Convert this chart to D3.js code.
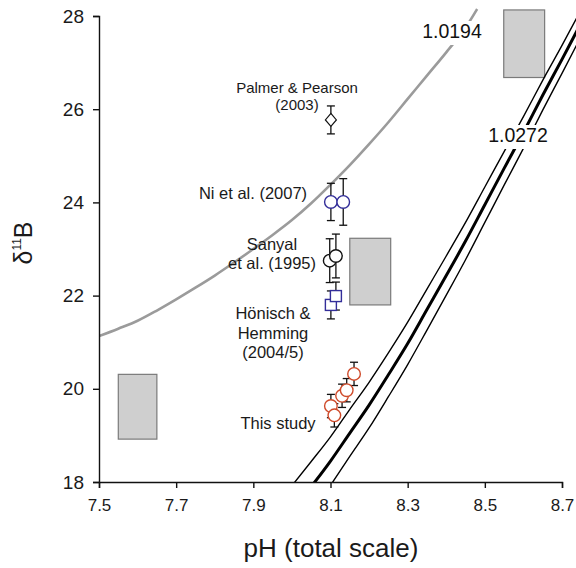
<!DOCTYPE html>
<html>
<head>
<meta charset="utf-8">
<script src="https://cdn.jsdelivr.net/npm/d3@7"></script>
<style>
body{margin:0;background:#fff;}
svg{font-family:"Liberation Sans",Arial,sans-serif;display:block;}
</style>
</head>
<body>
<div id="chart"></div>
<script>
// ticks
var phTicks = [7.5, 7.7, 7.9, 8.1, 8.3, 8.5, 8.7];
var dTicks = [18, 20, 22, 24, 26, 28];

// grey curve, alpha 1.0194
var ph1194 = [7.50, 7.55, 7.60, 7.65, 7.70, 7.75, 7.80, 7.85, 7.90, 7.95, 8.00, 8.05, 8.10, 8.15, 8.20, 8.25, 8.30, 8.35, 8.40, 8.45, 8.48];
var d1194 = [21.13, 21.29, 21.46, 21.68, 21.92, 22.17, 22.43, 22.71, 23.00, 23.30, 23.62, 23.98, 24.38, 24.80, 25.25, 25.72, 26.22, 26.72, 27.22, 27.75, 28.15];

// black curves, alpha 1.0272 (centre + envelope)
var ph1272 = [8.00, 8.05, 8.10, 8.15, 8.20, 8.25, 8.30, 8.35, 8.40, 8.45, 8.50, 8.55, 8.60, 8.65, 8.70, 8.74];
var d1272 = [17.37, 17.90, 18.45, 19.05, 19.65, 20.30, 20.97, 21.70, 22.43, 23.17, 23.95, 24.73, 25.50, 26.30, 27.07, 27.70];
var d1272hi = [17.92, 18.44, 18.97, 19.56, 20.14, 20.77, 21.43, 22.14, 22.85, 23.57, 24.33, 25.09, 25.84, 26.62, 27.37, 27.99];
var d1272lo = [16.82, 17.37, 17.93, 18.55, 19.16, 19.83, 20.52, 21.26, 22.01, 22.77, 23.57, 24.37, 25.16, 25.98, 26.77, 27.41];

// grey boxes
var boxes = [
  {ph0: 7.55, ph1: 7.65, lo: 18.92, hi: 20.31},
  {ph0: 8.15, ph1: 8.256, lo: 21.80, hi: 23.23},
  {ph0: 8.549, ph1: 8.655, lo: 26.68, hi: 28.13}
];

// published data
var palmer = [{ph: 8.101, d: 25.77, e: 0.30}];
var ni = [{ph: 8.101, d: 24.01, e: 0.40}, {ph: 8.133, d: 24.01, e: 0.50}];
var sanyal = [{ph: 8.098, d: 22.75, e: 0.47}, {ph: 8.114, d: 22.85, e: 0.47}];
var honisch = [{ph: 8.101, d: 21.80, e: 0.30}, {ph: 8.114, d: 21.99, e: 0.30}];
var thisStudy = [
  {ph: 8.101, d: 19.63, e: 0.25},
  {ph: 8.110, d: 19.43, e: 0.25},
  {ph: 8.130, d: 19.85, e: 0.25},
  {ph: 8.142, d: 19.97, e: 0.25},
  {ph: 8.161, d: 20.32, e: 0.25}
];

var W = 576, H = 568;
var blue = "#332e99", red = "#cf4b2b";

var svg = d3.select("#chart").append("svg")
  .attr("width", W)
  .attr("height", H);

var x = d3.scaleLinear().domain([7.5, 8.7]).range([99, 562]);
var y = d3.scaleLinear().domain([18, 28]).range([482, 16]);

svg.append("clipPath").attr("id", "clip")
  .append("rect").attr("x", 99).attr("y", 0).attr("width", W - 99).attr("height", 482);

var plot = svg.append("g").attr("clip-path", "url(#clip)");

// boxes
plot.selectAll("rect.box")
  .data(boxes)
  .enter()
  .append("rect")
  .attr("class", "box")
  .attr("x", d => x(d.ph0))
  .attr("y", d => y(d.hi))
  .attr("width", d => x(d.ph1) - x(d.ph0))
  .attr("height", d => y(d.lo) - y(d.hi))
  .attr("fill", "#cfcfcf")
  .attr("stroke", "#7a7a7a")
  .attr("stroke-width", 1.2);

var line = d3.line().x(d => x(d[0])).y(d => y(d[1])).curve(d3.curveMonotoneX);

plot.append("path")
  .attr("d", line(d3.zip(ph1194, d1194)))
  .attr("fill", "none")
  .attr("stroke", "#9b9b9b")
  .attr("stroke-width", 2.6);

[[d1272hi, 1.4], [d1272, 3], [d1272lo, 1.4]].forEach(function(c){
  plot.append("path")
    .attr("d", line(d3.zip(ph1272, c[0])))
    .attr("fill", "none")
    .attr("stroke", "#000")
    .attr("stroke-width", c[1]);
});

// curve labels with white background
function curveLabel(txt, cx, by){
  var g = svg.append("g");
  var bg = g.append("rect").attr("fill", "#fff");
  var t = g.append("text")
    .attr("x", cx).attr("y", by)
    .attr("text-anchor", "middle")
    .attr("font-size", 19.5)
    .attr("fill", "#111")
    .text(txt);
  var b = t.node().getBBox();
  bg.attr("x", b.x - 3).attr("y", b.y + 1).attr("width", b.width + 6).attr("height", b.height + 2);
}
curveLabel("1.0194", 452, 38);
curveLabel("1.0272", 518, 142);

// axes
var xAxis = svg.append("g")
  .attr("transform", "translate(0,482)")
  .call(d3.axisBottom(x).tickValues(phTicks).tickFormat(d3.format(".1f")).tickSizeOuter(0).tickSize(6).tickPadding(11));
var yAxis = svg.append("g")
  .attr("transform", "translate(99,0)")
  .call(d3.axisLeft(y).tickValues(dTicks).tickSizeOuter(0).tickSize(6).tickPadding(9));

xAxis.selectAll("text").attr("font-size", 17).attr("fill", "#1a1a1a");
yAxis.selectAll("text").attr("font-size", 19).attr("fill", "#1a1a1a");
svg.selectAll(".domain, .tick line").attr("stroke", "#111").attr("stroke-width", 1.4);
xAxis.attr("font-family", null);
yAxis.attr("font-family", null);

svg.append("text")
  .attr("x", 331).attr("y", 557)
  .attr("text-anchor", "middle")
  .attr("font-size", 26)
  .attr("fill", "#1a1a1a")
  .text("pH (total scale)");

var yl = svg.append("text")
  .attr("transform", "translate(32,243) rotate(-90)")
  .attr("text-anchor", "middle")
  .attr("font-size", 25)
  .attr("fill", "#1a1a1a");
yl.append("tspan").text("δ");
yl.append("tspan").attr("font-size", 12).attr("dy", -11).text("11");
yl.append("tspan").attr("dy", 11).text("B");

// error bars
function errBars(data){
  var g = svg.append("g").attr("stroke", "#111").attr("stroke-width", 1.3);
  data.forEach(function(d){
    g.append("line").attr("x1", x(d.ph)).attr("x2", x(d.ph)).attr("y1", y(d.d - d.e)).attr("y2", y(d.d + d.e));
    [d.d - d.e, d.d + d.e].forEach(function(v){
      g.append("line").attr("x1", x(d.ph) - 4).attr("x2", x(d.ph) + 4).attr("y1", y(v)).attr("y2", y(v));
    });
  });
}
errBars(palmer);
errBars(ni);
errBars(sanyal);
errBars(honisch);
errBars(thisStudy);

// markers
svg.selectAll("path.diamond")
  .data(palmer)
  .enter()
  .append("path")
  .attr("d", d => "M" + x(d.ph) + "," + (y(d.d) - 6.5) + "l5.5,6.5l-5.5,6.5l-5.5,-6.5z")
  .attr("fill", "#fff")
  .attr("stroke", "#111")
  .attr("stroke-width", 1.2);

function circles(data, col){
  svg.append("g").selectAll("circle")
    .data(data)
    .enter()
    .append("circle")
    .attr("cx", d => x(d.ph))
    .attr("cy", d => y(d.d))
    .attr("r", 6.3)
    .attr("fill", "#fff")
    .attr("stroke", col)
    .attr("stroke-width", 1.4);
}
circles(ni, blue);
circles(sanyal, "#111");
circles(thisStudy, red);

svg.append("g").selectAll("rect")
  .data(honisch)
  .enter()
  .append("rect")
  .attr("x", d => x(d.ph) - 5.5)
  .attr("y", d => y(d.d) - 5.5)
  .attr("width", 11)
  .attr("height", 11)
  .attr("fill", "#fff")
  .attr("stroke", blue)
  .attr("stroke-width", 1.4);

// study labels
var notes = [
  {lines: ["Palmer & Pearson", "(2003)"], x: 297, y: 93, size: 15, step: 17},
  {lines: ["Ni et al. (2007)"], x: 253, y: 199, size: 16.5, step: 19},
  {lines: ["Sanyal", "et al. (1995)"], x: 272, y: 250, size: 16.5, step: 19},
  {lines: ["Hönisch &", "Hemming", "(2004/5)"], x: 273, y: 319, size: 16.5, step: 19.5},
  {lines: ["This study"], x: 278, y: 429, size: 16.5, step: 19}
];
notes.forEach(function(n){
  var t = svg.append("text")
    .attr("text-anchor", "middle")
    .attr("font-size", n.size)
    .attr("fill", "#1a1a1a");
  n.lines.forEach(function(s, i){
    t.append("tspan").attr("x", n.x).attr("y", n.y + i * n.step).text(s);
  });
});
</script>
</body>
</html>
